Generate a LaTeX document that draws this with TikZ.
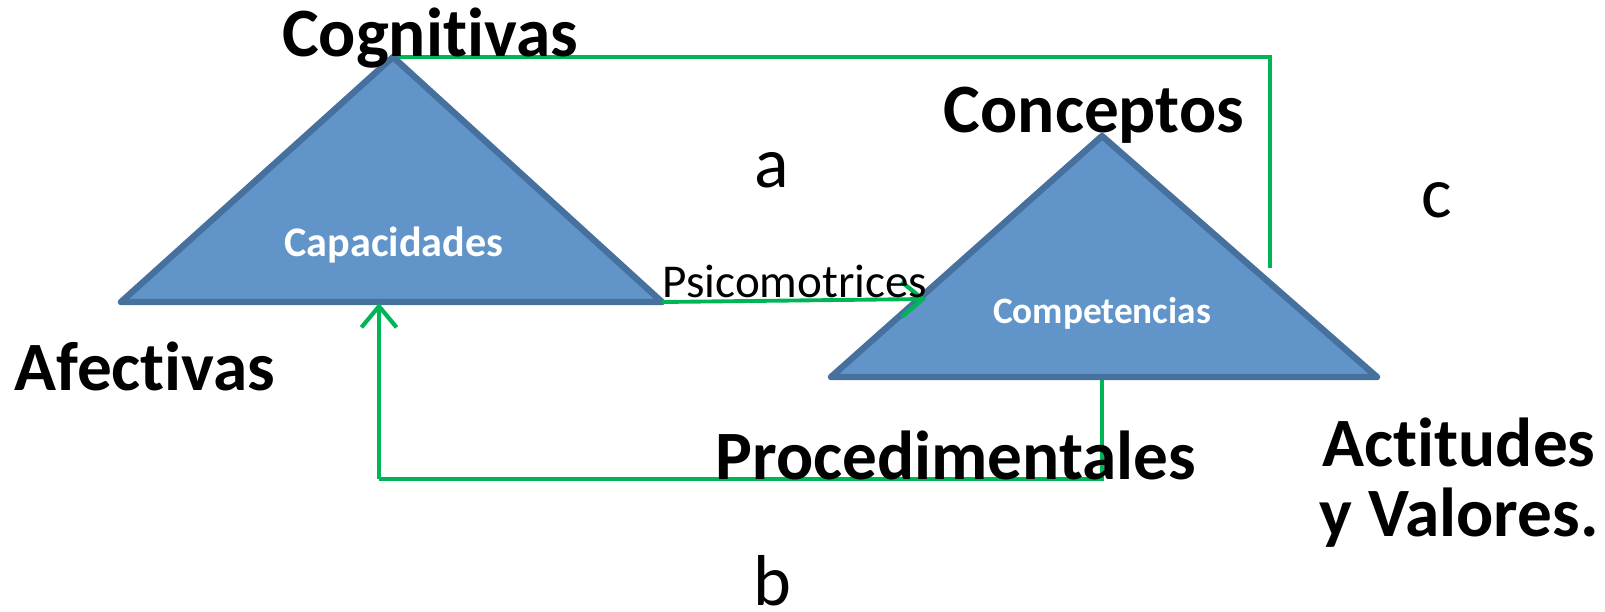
\documentclass[tikz,border=0pt]{standalone}
\usepackage{fontspec}
\setmainfont{Carlito}[Ligatures=NoCommon]
\usetikzlibrary{arrows.meta}

\definecolor{triFill}{RGB}{97,148,200}
\definecolor{triEdge}{RGB}{70,112,158}
\definecolor{linkGreen}{RGB}{0,181,86}

% break the t-i ligature of Carlito
\newcommand{\nolig}{\kern0pt\relax}

\tikzset{
    tri/.style={fill=triFill, draw=triEdge, line width=1.8pt, line join=round},
    link/.style={draw=linkGreen, line width=1.1pt},
    corner/.style={font=\fontsize{19.7}{23}\selectfont\bfseries, anchor=base, inner sep=0pt},
    letter/.style={font=\fontsize{20.5}{24}\selectfont, anchor=base, inner sep=0pt},
    inside/.style={font=\bfseries, text=white, anchor=base, inner sep=0pt},
    barb/.style={-{Straight Barb[length=6pt, width=10pt, line width=1.2pt]}}
}

\begin{document}
\begin{tikzpicture}[x=0.01cm, y=-0.01cm]
    \useasboundingbox (0,0) rectangle (1605,612);

    % Define the corners of the two triangles
    \coordinate (CapL) at (121,302);
    \coordinate (CapT) at (393,57);
    \coordinate (CapR) at (662,302);
    \coordinate (ComL) at (831,377);
    \coordinate (ComT) at (1102,136);
    \coordinate (ComR) at (1377,377);

    % Define the bends of the green connectors
    \coordinate (TopBend) at (1270,57);
    \coordinate (TopEnd) at (1270,268);
    \coordinate (ArrowEnd) at (926,299);
    \coordinate (BotStart) at (1102,380);
    \coordinate (BotBendR) at (1102,479);
    \coordinate (BotBendL) at (379,479);
    \coordinate (BotEnd) at (379,303);

    % Draw the green connectors behind the triangles
    \draw[link] (CapT) -- (TopBend) -- (TopEnd);
    \draw[link] (BotStart) -- (BotBendR) -- (BotBendL);

    % Draw the triangles
    \draw[tri] (CapL) -- (CapT) -- (CapR) -- cycle;
    \draw[tri] (ComL) -- (ComT) -- (ComR) -- cycle;

    % Draw the arrows
    \draw[link, barb] (CapR) -- (ArrowEnd);
    \draw[link, barb] (BotBendL) -- (BotEnd);

    % Place the labels inside the triangles
    \node (Cap) at (394,256) [inside, font=\fontsize{12}{14}\selectfont\bfseries] {Capacidades};
    \node (Com) at (1102,323) [inside, font=\fontsize{10.6}{13}\selectfont\bfseries] {Competencias};

    % Place the labels at the corners
    \node (Cog) at (430,57) [corner] {Cognit\nolig ivas};
    \node (Con) at (1094,133) [corner] {Conceptos};
    \node (Afe) at (145,390) [corner] {Afectivas};
    \node (Pro) at (956,479) [corner] {Procedimentales};
    \node (Act) at (1459,466) [corner] {Act\nolig itudes};
    \node (Val) at (1459,536) [corner] {y Valores.};
    \node (Psi) at (795,297) [anchor=base, inner sep=0pt, font=\fontsize{13.4}{16}\selectfont] {Psicomotrices};

    % Place the letters
    \node (a) at (772,187) [letter] {a};
    \node (b) at (772,605) [letter] {b};
    \node (c) at (1437,217) [letter] {c};
\end{tikzpicture}
\end{document}
